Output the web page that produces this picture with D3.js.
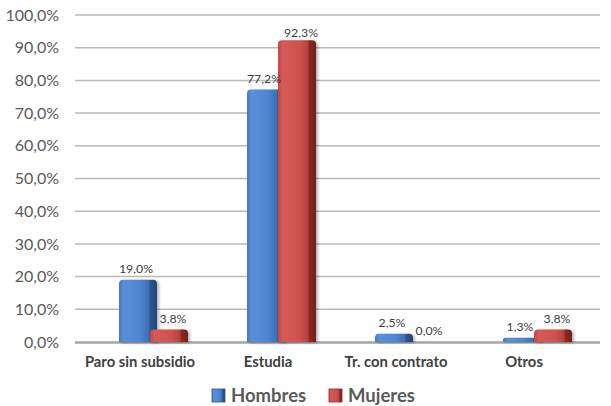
<!DOCTYPE html>
<html>
<head>
<meta charset="utf-8">
<script src="https://cdn.jsdelivr.net/npm/d3@7"></script>
<style>
  html, body { margin: 0; padding: 0; background: #fff; }
  svg { display: block; font-family: Lato, "Open Sans", sans-serif; }
</style>
</head>
<body>
<svg id="chart" width="611" height="406"></svg>
<script>
// Situación por sexo (porcentajes)
const categories = ["Paro sin subsidio", "Estudia", "Tr. con contrato", "Otros"];
const seriesNames = ["Hombres", "Mujeres"];
const hombres = [0.190, 0.772, 0.025, 0.013];
const mujeres = [0.038, 0.923, 0.000, 0.038];
const yTicks = [0, 0.1, 0.2, 0.3, 0.4, 0.5, 0.6, 0.7, 0.8, 0.9, 1.0];

const esLocale = d3.formatLocale({ decimal: ",", thousands: ".", grouping: [3], currency: ["", " €"], percent: "%" });
const pct = esLocale.format(".1%");

const svg = d3.select("#chart");
const plot = { left: 76, right: 588, top: 15, bottom: 342, gridRight: 600 };

const x = d3.scaleBand().domain(categories).range([plot.left, plot.right]);
const x1 = d3.scaleBand().domain(seriesNames).range([-21, 41]);
const y = d3.scaleLinear().domain([0, 1]).range([plot.bottom, plot.top]);

const palette = {
  Hombres: ["#4577c2", "#5b8fd8", "#4f84cf", "#3d6fb5", "#2c568f", "#22477a"],
  Mujeres: ["#c04643", "#d65a56", "#cf524f", "#b84240", "#8e2a28", "#6e1f1d"]
};
// horizontal label nudge per series (blue slightly left, red slightly right)
const labelNudge = { Hombres: -2, Mujeres: 4 };

const defs = svg.append("defs");
seriesNames.forEach((s, i) => {
  const g = defs.append("linearGradient").attr("id", "grad" + i)
    .attr("x1", "0%").attr("x2", "100%").attr("y1", "0%").attr("y2", "0%");
  const offs = ["0%", "12%", "55%", "78%", "82%", "100%"];
  palette[s].forEach((c, k) => g.append("stop").attr("offset", offs[k]).attr("stop-color", c));
});
const shadow = defs.append("filter").attr("id", "shadow")
  .attr("x", "-20%").attr("y", "-20%").attr("width", "150%").attr("height", "140%");
shadow.append("feGaussianBlur").attr("in", "SourceAlpha").attr("stdDeviation", 1.5);
shadow.append("feOffset").attr("dx", 2).attr("dy", 1).attr("result", "ob");
shadow.append("feComponentTransfer").append("feFuncA").attr("type", "linear").attr("slope", 0.3);
const merge = shadow.append("feMerge");
merge.append("feMergeNode");
merge.append("feMergeNode").attr("in", "SourceGraphic");

// gridlines and value axis
const yAxis = d3.axisLeft(y).tickValues(yTicks).tickFormat(pct).tickSize(0).tickPadding(17);
const gy = svg.append("g").attr("transform", `translate(${plot.left},0)`).call(yAxis);
gy.select(".domain").remove();
gy.selectAll("text").attr("fill", "#595959").style("font-size", "16px")
  .style("font-family", "Lato, 'Open Sans', sans-serif");

svg.append("g").selectAll("line").data(yTicks.filter(t => t > 0)).join("line")
  .attr("x1", plot.left - 1).attr("x2", plot.gridRight)
  .attr("y1", d => y(d)).attr("y2", d => y(d))
  .attr("stroke", "#b8b8b8").attr("stroke-width", 1.5);

// floor line
svg.append("line").attr("x1", plot.left - 1).attr("x2", plot.gridRight)
  .attr("y1", y(0) + 0.5).attr("y2", y(0) + 0.5)
  .attr("stroke", "#a6a6a6").attr("stroke-width", 2.5);

// bars with rounded top edges
function barPath(x0, w, yTop, yBase) {
  const r = Math.min(4, (yBase - yTop) / 2, w / 2);
  if (yBase - yTop < 0.5) return "";
  return `M${x0},${yBase} L${x0},${yTop + r} Q${x0},${yTop} ${x0 + r},${yTop} ` +
         `L${x0 + w - r},${yTop} Q${x0 + w},${yTop} ${x0 + w},${yTop + r} L${x0 + w},${yBase} Z`;
}

const series = [hombres, mujeres];
const barW = 38;
const gBars = svg.append("g");
seriesNames.forEach((s, i) => {
  gBars.append("g").selectAll("path").data(categories).join("path")
    .attr("d", (c, j) => barPath(x(c) + x.bandwidth() / 2 + x1(s), barW, y(series[i][j]), y(0)))
    .attr("fill", `url(#grad${i})`)
    .attr("filter", "url(#shadow)");
});

// value labels
const gLab = svg.append("g");
seriesNames.forEach((s, i) => {
  gLab.append("g").selectAll("text").data(categories).join("text")
    .attr("x", c => x(c) + x.bandwidth() / 2 + x1(s) + barW / 2 + labelNudge[s])
    .attr("y", (c, j) => Math.max(y(series[i][j]) - 7, 37))
    .attr("text-anchor", "middle")
    .attr("fill", "#404040").style("font-size", "12.3px")
    .text((c, j) => pct(series[i][j]));
});

// category axis
const xAxis = d3.axisBottom(x).tickSize(0).tickPadding(14);
const gx = svg.append("g").attr("transform", `translate(0,${plot.bottom})`).call(xAxis);
gx.select(".domain").remove();
gx.selectAll("text").attr("fill", "#404040").style("font-size", "14.8px")
  .style("font-weight", "bold").style("font-family", "Lato, 'Open Sans', sans-serif");

// legend
const legendItems = [
  { name: "Hombres", x: 212 },
  { name: "Mujeres", x: 329 }
];
const gLeg = svg.append("g").attr("transform", "translate(0,395)");
legendItems.forEach((it, i) => {
  gLeg.append("rect").attr("x", it.x).attr("y", -6).attr("width", 13).attr("height", 13)
    .attr("fill", `url(#grad${i})`).attr("stroke", i ? "#8e2a28" : "#2c568f").attr("stroke-width", 0.8);
  gLeg.append("text").attr("x", it.x + 19).attr("y", 6.5)
    .attr("fill", "#595959").style("font-size", "18.5px").style("font-weight", "bold")
    .text(it.name);
});
</script>
</body>
</html>
